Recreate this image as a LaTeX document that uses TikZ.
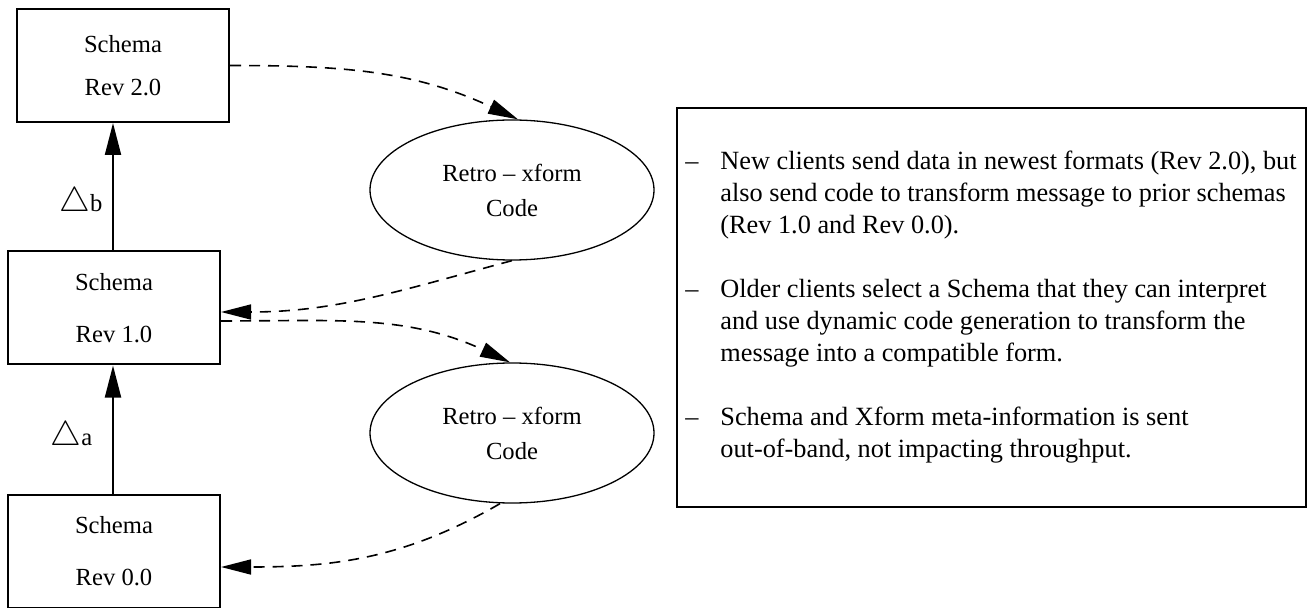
\documentclass[tikz,border=0pt]{standalone}
\usepackage{fontspec}
\setmainfont{Liberation Serif}
\usetikzlibrary{arrows.meta, positioning, shapes.geometric}

\tikzset{
  schemabox/.style={draw, line width=1pt, rectangle, minimum width=106pt,
    minimum height=56.5pt, inner sep=0pt, align=center,
    font=\fontsize{12.3}{26}\selectfont},
  xformcode/.style={draw, line width=0.65pt, ellipse, minimum width=142pt,
    minimum height=70pt, inner sep=0pt, align=center,
    font=\fontsize{12.3}{17.5}\selectfont},
  deltalabel/.style={inner sep=0pt, font=\fontsize{12.3}{14}\selectfont},
  notebox/.style={draw, line width=1.3pt, rectangle, minimum width=314.5pt,
    minimum height=199.5pt, inner sep=0pt},
  notetext/.style={inner sep=0pt, anchor=base west,
    font=\fontsize{13.15}{16}\selectfont},
  uparrow/.style={line width=1pt, -{Triangle[length=16pt, width=8pt]}},
  retroarrow/.style={line width=0.8pt, dash pattern=on 5.5pt off 4pt,
    -{Triangle[length=15pt, width=7.5pt]}}
}

\begin{document}
\begin{tikzpicture}[x=0.5pt, y=-0.5pt]
  \useasboundingbox (0,0) rectangle (1309,608);

  % schema revisions
  \node[schemabox, font=\fontsize{12.3}{21.5}\selectfont] (rev2) at (123,65.5) {Schema\\Rev 2.0};
  \node[schemabox] (rev1) at (114,308) {Schema\\Rev 1.0};
  \node[schemabox] (rev0) at (114,551) {Schema\\Rev 0.0};

  % transform code
  \node[xformcode] (xform1) at (512,190) {Retro -- xform\\Code};
  \node[xformcode] (xform0) at (512,433) {Retro -- xform\\Code};

  % deltas
  \node[deltalabel] (deltab) at (81,203) {{\fontsize{16}{16}\selectfont$\triangle$}b};
  \node[deltalabel] (deltaa) at (71.5,437) {{\fontsize{16}{16}\selectfont$\triangle$}a};

  \draw[uparrow] ([xshift=-0.5pt]rev1.north) -- ([xshift=-0.5pt]rev1.north |- rev2.south);
  \draw[uparrow] ([xshift=-0.5pt]rev0.north) -- ([xshift=-0.5pt]rev0.north |- rev1.south);

  \draw[retroarrow] (rev2.east) to[out=0, in=155] ([xshift=3pt]xform1.north);
  \draw[retroarrow] (xform1.south) to[out=195, in=0] ([yshift=-2pt]rev1.east);
  \draw[retroarrow] ([yshift=-6.5pt]rev1.east) to[out=0, in=155] ([xshift=-1pt]xform0.north);
  \draw[retroarrow] ([xshift=-6pt]xform0.south) to[out=210, in=0] ([yshift=-8pt]rev0.east);

  % notes
  \node[notebox] (notes) at (991.5,307.5) {};
  \node[notetext] (notelist) at (685,170) {%
    \begin{tabular}[t]{@{}p{17.5pt}@{}l@{}}
      -- & New clients send data in newest formats (Rev 2.0), but\\
         & also send code to transform message to prior schemas\\
         & (Rev 1.0 and Rev 0.0).\\
         & \\
      -- & Older clients select a Schema that they can interpret\\
         & and use dynamic code generation to transform the\\
         & message into a compatible form.\\
         & \\
      -- & Schema and Xform meta-information is sent\\
         & out-of-band, not impacting throughput.
    \end{tabular}};
\end{tikzpicture}
\end{document}
